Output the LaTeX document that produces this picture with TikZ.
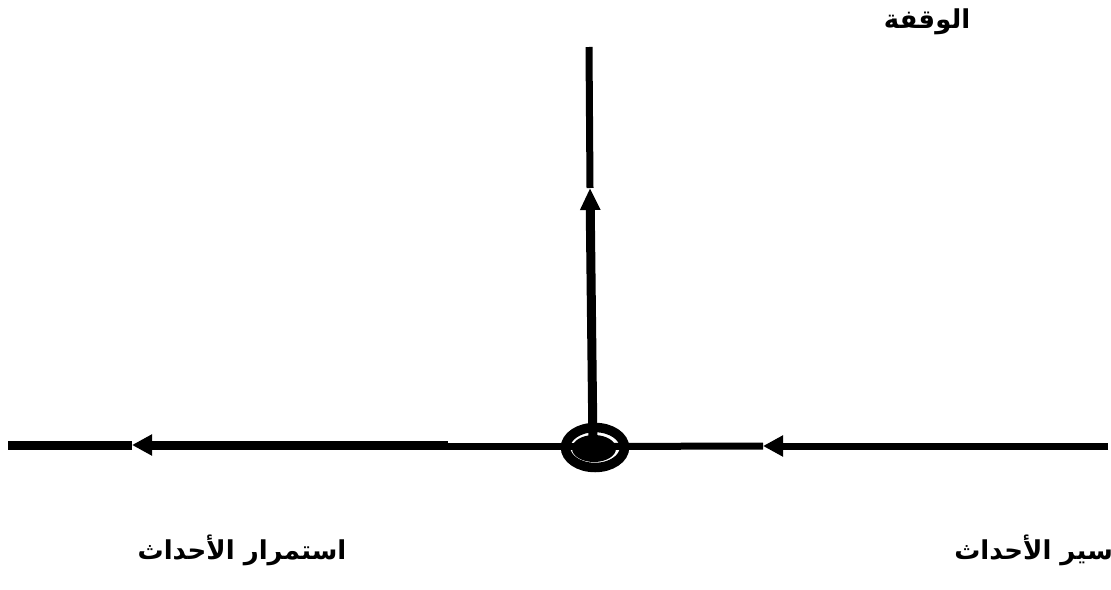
\documentclass[tikz,border=0pt]{standalone}
\usepackage{fontspec}
\usetikzlibrary{arrows.meta}
\TeXXeTstate=1
\newfontfamily\arabicfont[Script=Arabic]{DejaVu Sans}
\begin{document}
\begin{tikzpicture}[x=1pt,y=-1pt,
  thickln/.style={line width=9pt,black},
  thinln/.style={line width=7pt,black},
  tip/.style={-{Triangle[length=20pt,width=20pt]}},
  lbl/.style={font=\arabicfont\bfseries\fontsize{26}{30}\selectfont,inner sep=0pt}]
\useasboundingbox (0,0) rectangle (1111,589);
% coordinates
\coordinate (C) at (595,447);
\coordinate (Lmid) at (448,445);
\coordinate (LtipA) at (132,445);
\coordinate (Lend) at (8,445);
\coordinate (Cl) at (595,446.5);
\coordinate (Rend) at (1108,446);
\coordinate (RtipA) at (763,446);
\coordinate (Cb) at (593,447);
\coordinate (VtipA) at (590,188);
\coordinate (Vtop) at (589,47);
% ring
\draw[line width=9.5pt] (595,447.5) ellipse [x radius=29.5pt, y radius=20pt];
\fill (594,448.5) ellipse [x radius=22pt, y radius=13.5pt];
% left
\draw[thinln] (Cl) -- (448,446.5);
\draw[thickln,tip] (Lmid) -- (LtipA);
\draw[thickln] (LtipA) -- (Lend);
% right
\draw[thinln,tip] (Rend) -- (RtipA);
\draw[thinln] (RtipA) -- (Cl);
% vertical
\draw[thickln,-{Triangle[length=22pt,width=19pt]}] (Cb) -- (VtipA);
\draw[thinln] (VtipA) -- (Vtop);
% labels
\node[lbl] (stop) at (927,22) {\beginR الوقفة\endR};
\node[lbl] (cont) at (242,550) {\beginR استمرار الأحداث\endR};
\node[lbl,anchor=east] (run) at (1113,550) {\beginR سير الأحداث\endR};
\end{tikzpicture}
\end{document}
